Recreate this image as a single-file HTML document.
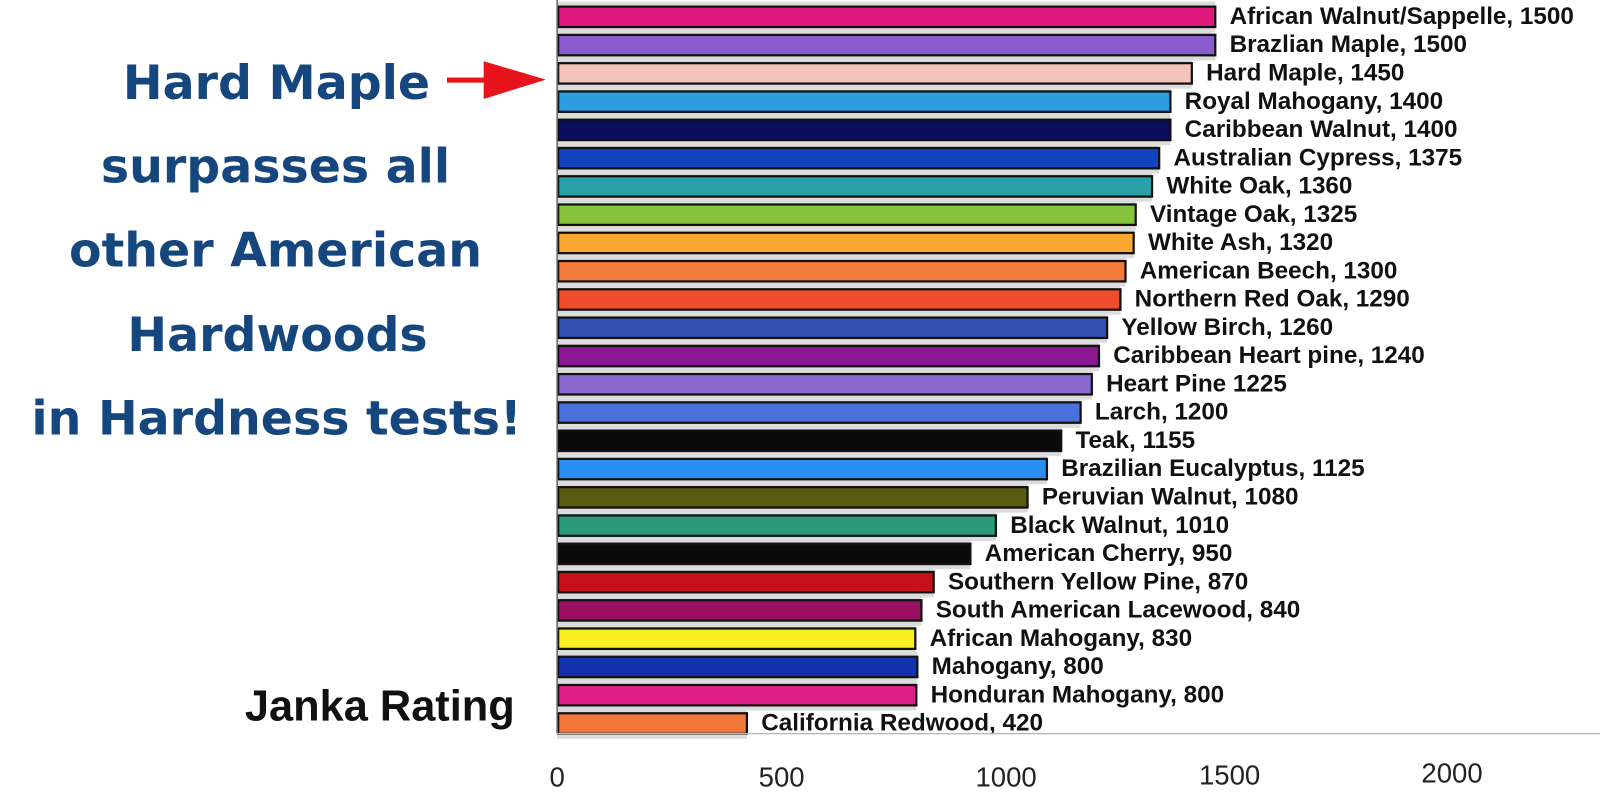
<!DOCTYPE html>
<html><head><meta charset="utf-8"><style>
html,body{margin:0;padding:0;background:#fff;}
svg{display:block;}
.l{font-family:"Liberation Sans",Arial,sans-serif;font-weight:bold;font-size:23.8px;fill:#111;}
.t{font-family:"Liberation Sans",Arial,sans-serif;font-size:27px;fill:#222;}
.h{font-family:"DejaVu Sans",Verdana,sans-serif;font-weight:bold;font-size:46.5px;fill:#15477e;}
</style></head><body>
<svg width="1600" height="801" viewBox="0 0 1600 801" xmlns="http://www.w3.org/2000/svg">
<rect width="1600" height="801" fill="#fff"/>
<g transform="scale(1.0204)">
<g id="bars"></g>
<line x1="546" y1="0" x2="546" y2="719" stroke="#666" stroke-width="1.5"/>
<line x1="546" y1="719" x2="1568" y2="719" stroke="#bbb" stroke-width="1.5"/>
<text class="t" x="546" y="771" text-anchor="middle">0</text>
<text class="t" x="766" y="771" text-anchor="middle">500</text>
<text class="t" x="986" y="771" text-anchor="middle">1000</text>
<text class="t" x="1205" y="769" text-anchor="middle">1500</text>
<text class="t" x="1423" y="767" text-anchor="middle">2000</text>
<text class="h" x="271" y="97" text-anchor="middle">Hard Maple</text>
<text class="h" x="270" y="179" text-anchor="middle">surpasses all</text>
<text class="h" x="270" y="261" text-anchor="middle">other American</text>
<text class="h" x="272" y="344" text-anchor="middle">Hardwoods</text>
<text class="h" x="271" y="426" text-anchor="middle">in Hardness tests!</text>
<rect x="438" y="76" width="42" height="5" fill="#e8141c"/>
<polygon points="474,60 535,78 474,97" fill="#e8141c"/>
<text x="240" y="706" style="font-family:'Liberation Sans',Arial,sans-serif;font-weight:bold;font-size:42.5px;fill:#111">Janka Rating</text>
</g>
</svg>
<script>
var d=[
["African Walnut/Sappelle, 1500",1191,"#e0197e"],
["Brazlian Maple, 1500",1191,"#8a5ccf"],
["Hard Maple, 1450",1168,"#f4c2b8"],
["Royal Mahogany, 1400",1147,"#2c9ee0"],
["Caribbean Walnut, 1400",1147,"#0c0e5c"],
["Australian Cypress, 1375",1136,"#1443c0"],
["White Oak, 1360",1129,"#2aa0a8"],
["Vintage Oak, 1325",1113,"#86c43c"],
["White Ash, 1320",1111,"#f9a832"],
["American Beech, 1300",1103,"#f27a3a"],
["Northern Red Oak, 1290",1098,"#f04b2a"],
["Yellow Birch, 1260",1085,"#3150b0"],
["Caribbean Heart pine, 1240",1077,"#8a1890"],
["Heart Pine 1225",1070,"#8a6ad0"],
["Larch, 1200",1059,"#4a70dc"],
["Teak, 1155",1040,"#0a0a0a"],
["Brazilian Eucalyptus, 1125",1026,"#2a8ef0"],
["Peruvian Walnut, 1080",1007,"#5a5a10"],
["Black Walnut, 1010",976,"#2a9a78"],
["American Cherry, 950",951,"#0a0a0a"],
["Southern Yellow Pine, 870",915,"#c81018"],
["South American Lacewood, 840",903,"#9a1060"],
["African Mahogany, 830",897,"#f8f020"],
["Mahogany, 800",899,"#1432b0"],
["Honduran Mahogany, 800",898,"#e0208a"],
["California Redwood, 420",732,"#f2783a"]];
var g=document.getElementById('bars'),s='';
d.forEach(function(r,i){
 var c=16.5+i*27.7, y=c-10;
 s+='<rect x="546" y="'+(y-5)+'" width="'+(r[1]-546)+'" height="30" fill="#dcdcdc"/>';
});
d.forEach(function(r,i){
 var c=16.5+i*27.7, y=c-10;
 s+='<rect x="547" y="'+y+'" width="'+(r[1]-547)+'" height="20" fill="'+r[2]+'" stroke="#111" stroke-width="2.2"/>';
 s+='<text class="l" x="'+(r[1]+14)+'" y="'+(c+7)+'">'+r[0]+'</text>';
});
g.innerHTML=s;
</script>
</body></html>
